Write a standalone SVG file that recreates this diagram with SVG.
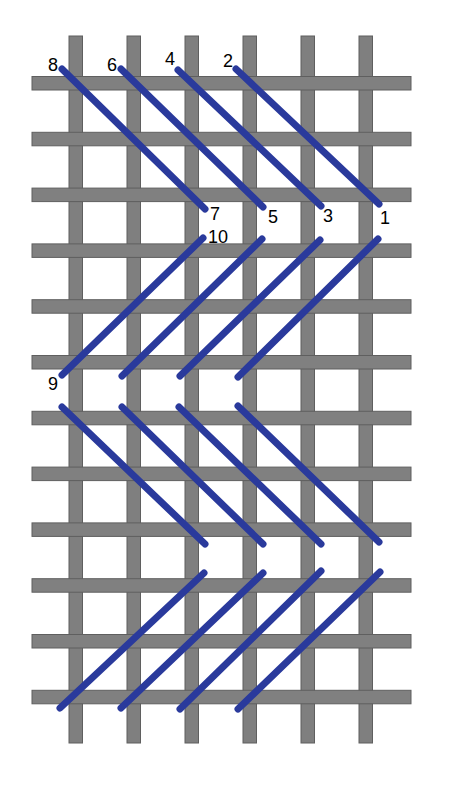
<svg xmlns="http://www.w3.org/2000/svg" width="452" height="786" viewBox="0 0 452 786">
<style>
.v{fill:#7f7f7f;stroke:#5f5f5f;stroke-width:1}
.h{fill:#808080;stroke:#5f5f5f;stroke-width:1}
.s{stroke:#2a3a9c;stroke-width:7;stroke-linecap:round;fill:none}
.t{font-family:"Liberation Sans",Arial,sans-serif;font-size:18px;fill:#000}
</style>
<rect width="452" height="786" fill="#ffffff"/>
<g id="canvas">
<g id="vertical-threads">
<rect class="v" x="69" y="36" width="13.5" height="707"/>
<rect class="v" x="127" y="36" width="13.5" height="707"/>
<rect class="v" x="185" y="36" width="13.5" height="707"/>
<rect class="v" x="243" y="36" width="13.5" height="707"/>
<rect class="v" x="301" y="36" width="13.5" height="707"/>
<rect class="v" x="359" y="36" width="13.5" height="707"/>
</g>
<g id="horizontal-threads">
<rect class="h" x="32" y="76.5" width="379" height="13.5"/>
<rect class="h" x="32" y="132.3" width="379" height="13.5"/>
<rect class="h" x="32" y="188.1" width="379" height="13.5"/>
<rect class="h" x="32" y="243.9" width="379" height="13.5"/>
<rect class="h" x="32" y="299.7" width="379" height="13.5"/>
<rect class="h" x="32" y="355.5" width="379" height="13.5"/>
<rect class="h" x="32" y="411.3" width="379" height="13.5"/>
<rect class="h" x="32" y="467.1" width="379" height="13.5"/>
<rect class="h" x="32" y="522.9" width="379" height="13.5"/>
<rect class="h" x="32" y="578.7" width="379" height="13.5"/>
<rect class="h" x="32" y="634.5" width="379" height="13.5"/>
<rect class="h" x="32" y="690.3" width="379" height="13.5"/>
</g>
</g>
<g id="stitches">
<line class="s" x1="62" y1="69" x2="205" y2="209"/>
<line class="s" x1="121" y1="69" x2="263" y2="207"/>
<line class="s" x1="178" y1="70" x2="321" y2="206"/>
<line class="s" x1="236" y1="69" x2="379" y2="204"/>
<line class="s" x1="203" y1="238" x2="62" y2="375"/>
<line class="s" x1="262" y1="239" x2="122" y2="376"/>
<line class="s" x1="320" y1="240" x2="180" y2="376"/>
<line class="s" x1="378" y1="239" x2="238" y2="377"/>
<line class="s" x1="62" y1="407" x2="205" y2="544"/>
<line class="s" x1="122" y1="407" x2="263" y2="544"/>
<line class="s" x1="179" y1="407" x2="321" y2="544"/>
<line class="s" x1="238" y1="406" x2="379" y2="542"/>
<line class="s" x1="204" y1="573" x2="60" y2="708"/>
<line class="s" x1="263" y1="573" x2="121" y2="708"/>
<line class="s" x1="321" y1="571" x2="180" y2="709"/>
<line class="s" x1="380" y1="572" x2="238" y2="709"/>
</g>
<g id="labels">
<text class="t" x="48" y="71">8</text>
<text class="t" x="107" y="71">6</text>
<text class="t" x="165" y="65">4</text>
<text class="t" x="223" y="67">2</text>
<text class="t" x="210" y="220">7</text>
<text class="t" x="208" y="243">10</text>
<text class="t" x="268" y="223">5</text>
<text class="t" x="323" y="222">3</text>
<text class="t" x="380" y="224">1</text>
<text class="t" x="48" y="390">9</text>
</g>
</svg>
